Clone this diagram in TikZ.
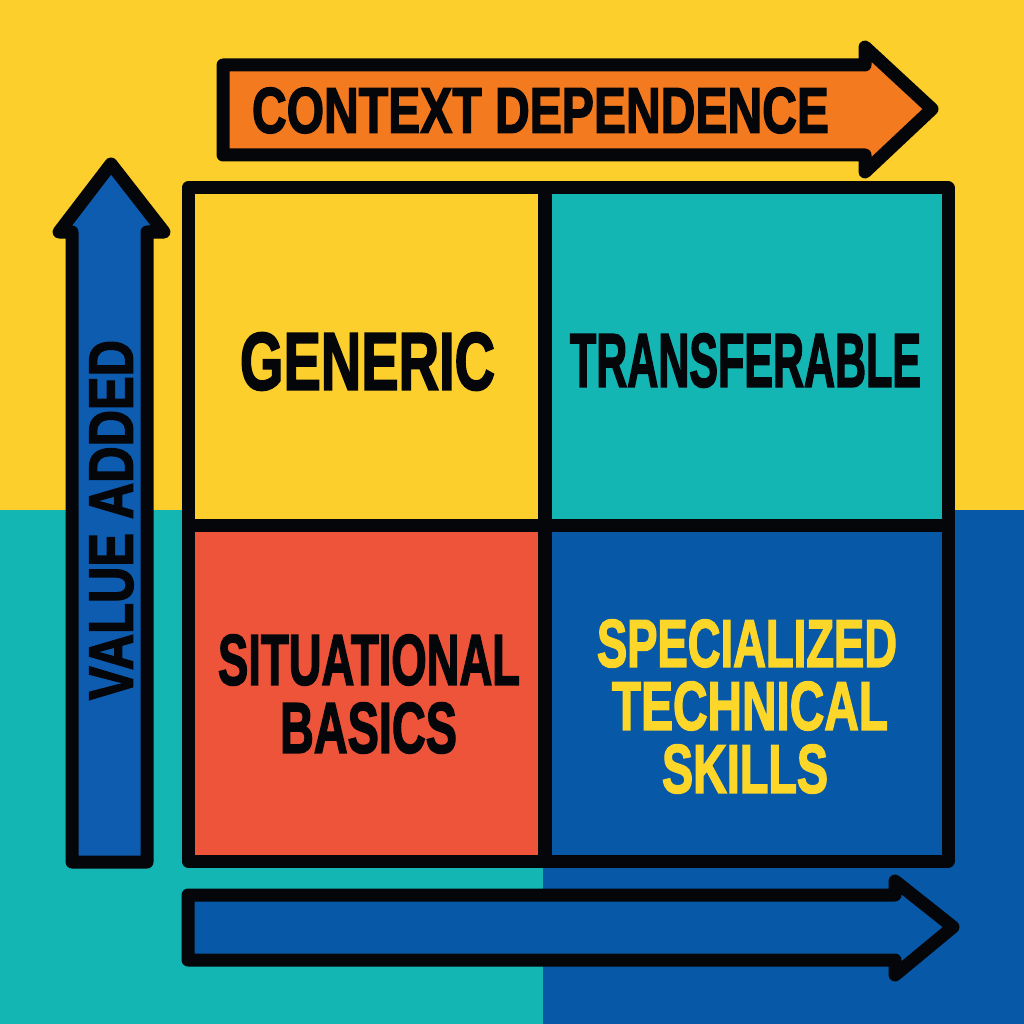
\documentclass[tikz,border=0pt]{standalone}
\usepackage{fontspec}
\setmainfont{Liberation Sans}
\newfontfamily\heavyfont{Liberation Sans Bold}[FakeBold=2.5]
\usepackage{graphicx}
\definecolor{bgyellow}{RGB}{252,207,44}
\definecolor{bgteal}{RGB}{20,182,180}
\definecolor{bgblue}{RGB}{8,88,168}
\definecolor{arrblue}{RGB}{14,92,176}
\definecolor{arrorange}{RGB}{244,122,32}
\definecolor{cellred}{RGB}{238,84,58}
\definecolor{txtyellow}{RGB}{253,214,42}
\definecolor{ink}{RGB}{5,6,10}
\newcommand\fitlabel[3]{\resizebox{#1pt}{#2pt}{\heavyfont #3}}
\tikzset{
  outline/.style={draw=ink, line width=13pt, line join=round},
  lbl/.style={inner sep=0pt, outer sep=0pt, text=ink},
}
\begin{document}
\begin{tikzpicture}[x=1pt,y=-1pt]
\useasboundingbox (0,0) rectangle (1024,1024);
% background
\fill[bgyellow] (0,0) rectangle (1024,510);
\fill[bgteal] (0,510) rectangle (543,1024);
\fill[bgblue] (543,510) rectangle (1024,1024);
% top arrow
\filldraw[outline, fill=arrorange] (223,65) -- (865,65) -- (865,47) -- (932,109) -- (865,172) -- (865,155) -- (223,155) -- cycle;
\node[lbl] (ctx) at (540.5,110.5) {\fitlabel{577}{45}{CONTEXT DEPENDENCE}};
% left arrow
\filldraw[outline, fill=arrblue] (72,862) -- (72,232) -- (59,232) -- (111,164) -- (164,232) -- (147,232) -- (147,862) -- cycle;
\node[lbl, rotate=90] (val) at (111.5,520) {\fitlabel{360}{43}{VALUE ADDED}};
% bottom arrow
\filldraw[outline, fill=bgblue] (188,895) -- (895,895) -- (895,881) -- (953,927) -- (895,975) -- (895,960) -- (188,960) -- cycle;
% cells
\fill[bgyellow] (188,188) rectangle (545,525);
\fill[bgteal] (545,188) rectangle (948,525);
\fill[cellred] (188,525) rectangle (545,861);
\fill[bgblue] (545,525) rectangle (948,861);
\draw[outline] (188,188) rectangle (948,861);
\draw[draw=ink, line width=14pt] (545,188) -- (545,861);
\draw[draw=ink, line width=13pt] (188,525) -- (948,525);
% labels
\node[lbl] (gen) at (367.5,361.5) {\fitlabel{255}{57}{GENERIC}};
\node[lbl] (tra) at (745.5,360.5) {\fitlabel{351}{53}{TRANSFERABLE}};
\node[lbl] (sit1) at (369,660) {\fitlabel{302}{50}{SITUATIONAL}};
\node[lbl] (sit2) at (368.5,728) {\fitlabel{177}{50}{BASICS}};
\node[lbl, text=txtyellow] (spe1) at (747,643.5) {\fitlabel{300}{47}{SPECIALIZED}};
\node[lbl, text=txtyellow] (spe2) at (750,706) {\fitlabel{276}{48}{TECHNICAL}};
\node[lbl, text=txtyellow] (spe3) at (745,769) {\fitlabel{166}{48}{SKILLS}};
\end{tikzpicture}
\end{document}
